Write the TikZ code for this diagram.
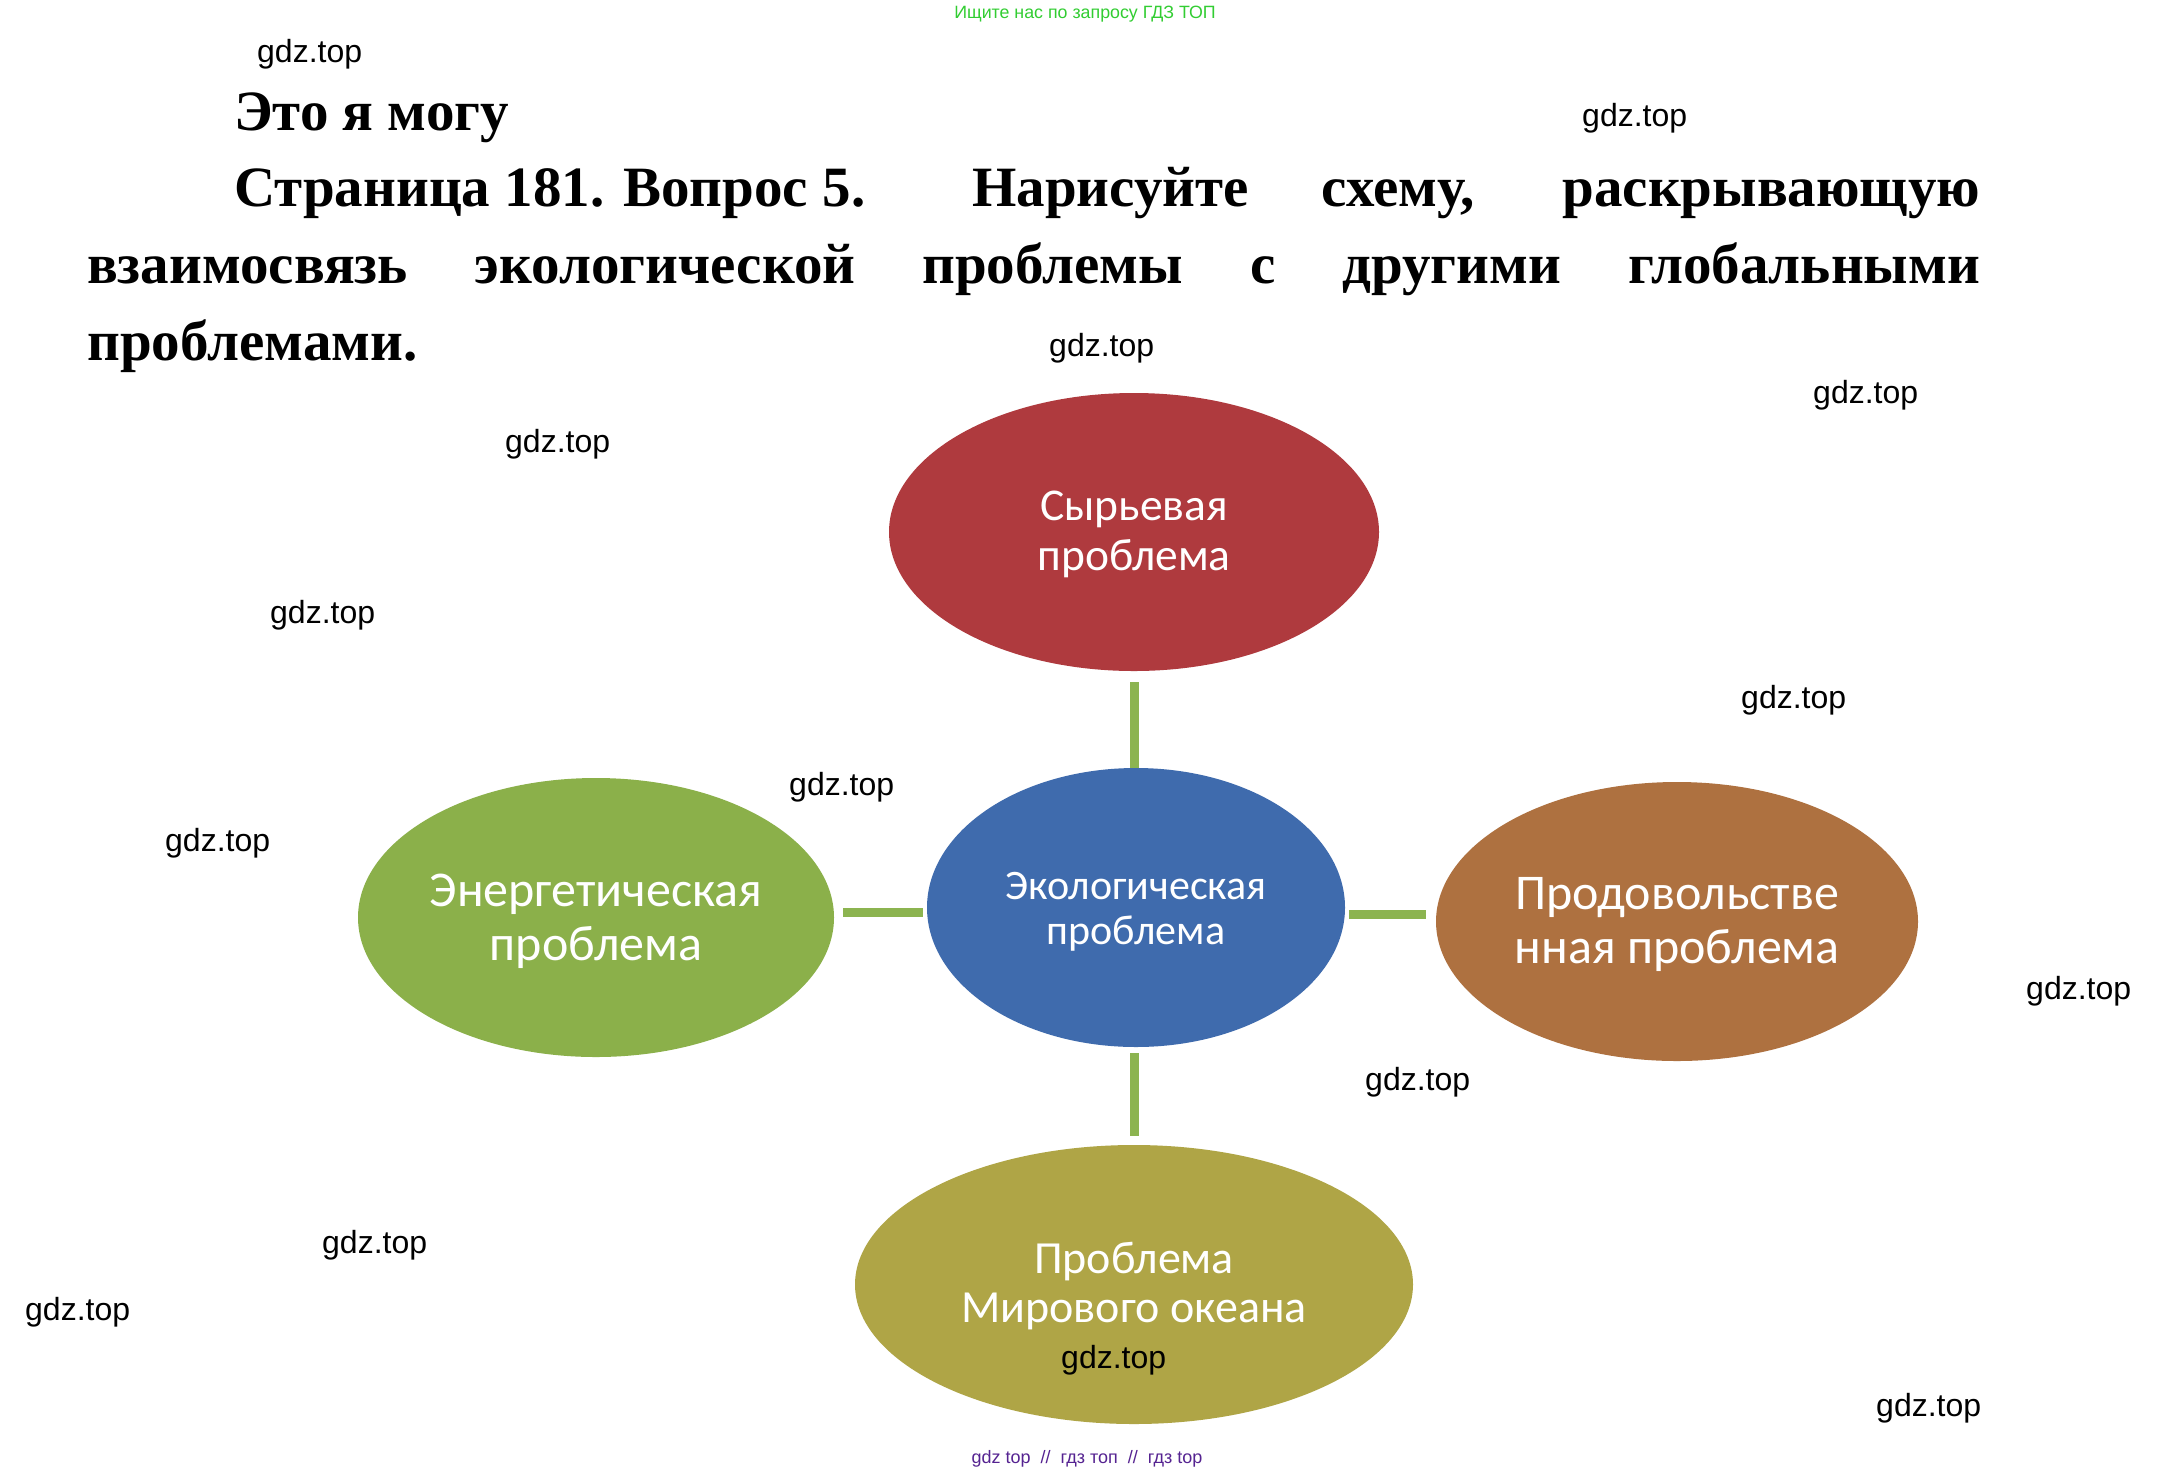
\documentclass[tikz,border=0pt]{standalone}
\usepackage{fontspec}
\setmainfont{Liberation Serif}
\newfontfamily\calfont{Carlito}
\newfontfamily\arialfont{Liberation Sans}
\usetikzlibrary{shapes.geometric}
\definecolor{ered}{RGB}{175,58,62}
\definecolor{eblue}{RGB}{63,107,173}
\definecolor{egreen}{RGB}{139,176,74}
\definecolor{ebrown}{RGB}{174,113,64}
\definecolor{eolive}{RGB}{175,165,70}
\definecolor{conngreen}{RGB}{140,180,80}
\definecolor{topgreen}{RGB}{50,205,50}
\definecolor{botpurple}{RGB}{85,35,145}
\begin{document}
\begin{tikzpicture}[x=1pt,y=-1pt,
  bubble/.style={ellipse, inner sep=0pt, minimum height=279pt},
  btext/.style={inner sep=0pt, text=white, align=center},
  conn/.style={draw=conngreen, line width=9pt},
  wm/.style={anchor=base west, inner sep=0pt, font=\arialfont\fontsize{32}{38}\selectfont},
  titleline/.style={anchor=base west, inner sep=0pt, font=\bfseries\fontsize{57}{68}\selectfont}]
\fill[white] (0,0) rectangle (2170,1473);
\useasboundingbox (0,0) rectangle (2170,1473);

% header texts
\node[anchor=base, inner sep=0pt, text=topgreen, font=\arialfont\fontsize{17.8}{21}\selectfont] (top) at (1085,18) {Ищите нас по запросу ГДЗ ТОП};
\node[titleline] (t1) at (234,130) {Это я могу};
\node[titleline] (t2) at (234,206) {\makebox[1746pt][s]{\mbox{Страница 181. Вопрос 5.}\hspace{34pt} Нарисуйте схему, раскрывающую}};
\node[titleline] (t3) at (87,283) {\makebox[1893pt][s]{взаимосвязь экологической проблемы с другими глобальными}};
\node[titleline] (t4) at (87,360) {проблемами.};

% ellipses
\node[bubble, fill=ered, minimum width=490pt, minimum height=278pt] (raw) at (1134,532) {};
\node[btext, font=\calfont\fontsize{45.5}{50}\selectfont, yshift=-2pt] (rawtxt) at (raw.center) {Сырьевая\\проблема};
\node[bubble, fill=eblue, minimum width=418pt] (eco) at (1136,907.5) {};
\node[btext, font=\calfont\fontsize{42}{45}\selectfont, yshift=-4pt] (ecotxt) at (eco.center) {Экологическая\\проблема};
\node[bubble, fill=egreen, minimum width=476pt] (energy) at (596,917.5) {};
\node[btext, font=\calfont\fontsize{50}{54}\selectfont, yshift=-4pt] (energytxt) at (energy.center) {Энергетическая\\проблема};
\node[bubble, fill=ebrown, minimum width=482pt] (food) at (1677,921.5) {};
\node[btext, font=\calfont\fontsize{50}{54}\selectfont, yshift=-3pt] (foodtxt) at (food.center) {Продовольстве\\нная проблема};
\node[bubble, fill=eolive, minimum width=558pt] (ocean) at (1134,1284.5) {};
\node[btext, font=\calfont\fontsize{46}{49}\selectfont, yshift=-2pt] (oceantxt) at (ocean.center) {Проблема\\Мирового океана};

% connectors
\draw[conn, shorten <=11pt] (raw.south) -- (raw.south |- eco.north);
\draw[conn, shorten <=6pt, shorten >=9pt] (raw.south |- eco.south) -- (raw.south |- ocean.north);
\path (energy.east) -- (eco.west) coordinate[pos=.5] (lm);
\draw[conn, shorten <=9pt, shorten >=4pt] (energy.east |- lm) -- (eco.west |- lm);
\path (eco.east) -- (food.west) coordinate[pos=.5] (rm);
\draw[conn, shorten <=4pt, shorten >=10pt] (eco.east |- rm) -- (food.west |- rm);

% watermarks
\node[wm] (w1) at (257,62) {gdz.top};
\node[wm] (w2) at (1582,126) {gdz.top};
\node[wm] (w3) at (1049,356) {gdz.top};
\node[wm] (w4) at (1813,403) {gdz.top};
\node[wm] (w5) at (505,452) {gdz.top};
\node[wm] (w6) at (270,623) {gdz.top};
\node[wm] (w7) at (1741,708) {gdz.top};
\node[wm] (w8) at (789,795) {gdz.top};
\node[wm] (w9) at (165,851) {gdz.top};
\node[wm] (w10) at (2026,999) {gdz.top};
\node[wm] (w11) at (1365,1090) {gdz.top};
\node[wm] (w12) at (322,1253) {gdz.top};
\node[wm] (w13) at (25,1320) {gdz.top};
\node[wm] (w14) at (1061,1368) {gdz.top};
\node[wm] (w15) at (1876,1416) {gdz.top};

% footer
\node[anchor=base, inner sep=0pt, text=botpurple, font=\arialfont\fontsize{18}{21}\selectfont] (bot) at (1087,1463) {gdz top \ // \ гдз топ \ // \ гдз top};
\end{tikzpicture}
\end{document}
